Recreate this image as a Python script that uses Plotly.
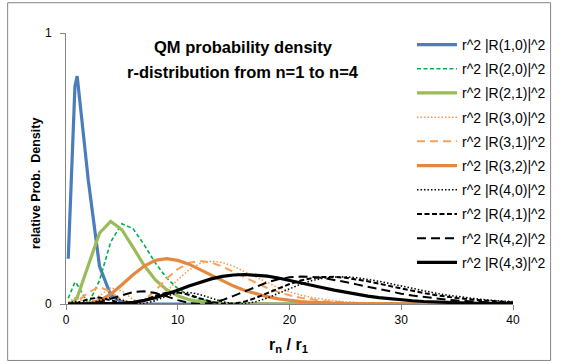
import plotly.graph_objects as go

# r / r1 sample positions
r_vals = [0.2, 0.8] + list(range(1, 41))

p10 = [0.167, 0.803, 0.841, 0.455, 0.139, 0.033, 0.007, 0.0014, 0.0003,
       0, 0, 0, 0, 0, 0, 0, 0, 0, 0, 0, 0, 0, 0, 0, 0, 0, 0, 0, 0, 0, 0, 0, 0,
       0, 0, 0, 0, 0, 0, 0, 0, 0]
p20 = [0.021, 0.081, 0.072, 0.0, 0.087, 0.229, 0.296, 0.278, 0.218, 0.151, 0.096,
       0.057, 0.032, 0.017, 0.009, 0.005, 0.002, 0.001, 0.0005, 0.0002,
       0, 0, 0, 0, 0, 0, 0, 0, 0, 0, 0, 0, 0, 0, 0, 0, 0, 0, 0, 0, 0, 0]
p21 = [0.0001, 0.012, 0.024, 0.141, 0.262, 0.305, 0.274, 0.209, 0.142, 0.089, 0.053,
       0.030, 0.016, 0.008, 0.004, 0.002, 0.001, 0.0005, 0.0002, 0.0001,
       0, 0, 0, 0, 0, 0, 0, 0, 0, 0, 0, 0, 0, 0, 0, 0, 0, 0, 0, 0, 0, 0]
p30 = [0.006, 0.023, 0.020, 0.0003, 0.031, 0.060, 0.048, 0.017, 0.0001, 0.012, 0.046,
       0.089, 0.126, 0.150, 0.158, 0.153, 0.139, 0.119, 0.098, 0.078, 0.060,
       0.045, 0.033, 0.024, 0.017, 0.012, 0.008, 0.005, 0.0035, 0.0023, 0.0015,
       0.001, 0.0006, 0.0004, 0.00025, 0.00016, 0.0001, 0, 0, 0, 0, 0]
p31 = [0.0, 0.004, 0.008, 0.043, 0.063, 0.045, 0.014, 0.0, 0.014, 0.050, 0.093,
       0.129, 0.152, 0.159, 0.153, 0.138, 0.118, 0.097, 0.077, 0.059, 0.044,
       0.032, 0.023, 0.016, 0.011, 0.008, 0.005, 0.0034, 0.0023, 0.0015, 0.0009,
       0.0006, 0.0004, 0.00025, 0.00015, 0.0001, 0, 0, 0, 0, 0, 0]
p32 = [0.0, 0.0, 0.0001, 0.002, 0.0125, 0.036, 0.071, 0.108, 0.140, 0.161, 0.167,
       0.161, 0.147, 0.127, 0.105, 0.084, 0.066, 0.050, 0.037, 0.027, 0.019,
       0.013, 0.009, 0.006, 0.004, 0.0027, 0.0018, 0.0012, 0.0007, 0.0005, 0.0003,
       0.0002, 0.0001, 0, 0, 0, 0, 0, 0, 0, 0, 0]
p40 = [0.0026, 0.0095, 0.0081, 0.0002, 0.0138, 0.0235, 0.0152, 0.0027, 0.0011, 0.0127,
       0.0293, 0.0412, 0.0429, 0.0348, 0.0215, 0.0087, 0.0011, 0.0009, 0.0084, 0.0220,
       0.0391, 0.0569, 0.0730, 0.0862, 0.0949, 0.0997, 0.1002, 0.0972, 0.0915, 0.0839,
       0.0752, 0.0661, 0.0570, 0.0484, 0.0406, 0.0335, 0.0273, 0.0220, 0.0176, 0.0139,
       0.0109, 0.0085]
p41 = [0.0, 0.0018, 0.0036, 0.0181, 0.0241, 0.0141, 0.0020, 0.0016, 0.0139, 0.0305,
       0.0418, 0.0428, 0.0343, 0.0209, 0.0082, 0.0009, 0.0011, 0.0089, 0.0227, 0.0398,
       0.0576, 0.0738, 0.0867, 0.0955, 0.0999, 0.1002, 0.0971, 0.0913, 0.0837, 0.0750,
       0.0658, 0.0568, 0.0482, 0.0403, 0.0333, 0.0271, 0.0219, 0.0175, 0.0138, 0.0108,
       0.0084, 0.0065]
p42 = [0.0, 0.0, 0.0, 0.0012, 0.0070, 0.0188, 0.0332, 0.0442, 0.0470, 0.0406,
       0.0281, 0.0143, 0.0038, 0.0, 0.0038, 0.0145, 0.0300, 0.0476, 0.0650, 0.0799,
       0.0913, 0.0984, 0.1012, 0.1002, 0.0960, 0.0894, 0.0813, 0.0724, 0.0632, 0.0543,
       0.0459, 0.0382, 0.0314, 0.0256, 0.0206, 0.0164, 0.0129, 0.0101, 0.0078, 0.0060,
       0.0046, 0.0035]
p43 = [0.0, 0.0, 0.0, 0.0, 0.0001, 0.0007, 0.0024, 0.0063, 0.0132, 0.0232,
       0.0361, 0.0509, 0.0662, 0.0805, 0.0926, 0.1017, 0.1071, 0.1089, 0.1073, 0.1028,
       0.0961, 0.0878, 0.0787, 0.0693, 0.0599, 0.0511, 0.0430, 0.0357, 0.0293, 0.0237,
       0.0191, 0.0152, 0.0120, 0.0093, 0.0073, 0.0056, 0.0043, 0.0032, 0.0025, 0.0018,
       0.0014, 0.0010]

series_names = ["r^2 |R(1,0)|^2", "r^2 |R(2,0)|^2", "r^2 |R(2,1)|^2",
                "r^2 |R(3,0)|^2", "r^2 |R(3,1)|^2", "r^2 |R(3,2)|^2",
                "r^2 |R(4,0)|^2", "r^2 |R(4,1)|^2", "r^2 |R(4,2)|^2",
                "r^2 |R(4,3)|^2"]
series_vals = [p10, p20, p21, p30, p31, p32, p40, p41, p42, p43]

styles = [
    dict(color="#4A7EBB", width=3.2, dash="solid"),
    dict(color="#00B050", width=1.6, dash="4px,2.5px"),
    dict(color="#9BBB59", width=3.2, dash="solid"),
    dict(color="#F79646", width=1.5, dash="1.5px,2px"),
    dict(color="#F9A15C", width=2, dash="8px,5px"),
    dict(color="#E5883F", width=3.2, dash="solid"),
    dict(color="#000000", width=1.5, dash="1.5px,2px"),
    dict(color="#000000", width=2, dash="5px,2.5px"),
    dict(color="#000000", width=2, dash="9px,5px"),
    dict(color="#000000", width=3.2, dash="solid"),
]

FONT = "Liberation Sans"

fig = go.Figure()
for i, (nm, vals, st) in enumerate(zip(series_names, series_vals, styles)):
    fig.add_trace(go.Scatter(x=r_vals, y=vals, mode="lines", name=nm,
                             line=st, legendgroup=f"g{i}"))

axis_col = "#868686"
fig.update_layout(
    width=563, height=364,
    margin=dict(l=66, r=45, t=33, b=60),
    paper_bgcolor="white", plot_bgcolor="white",
    font=dict(family=FONT, size=12, color="#000000"),
    showlegend=True,
    legend=dict(x=0.774, y=1.015, xanchor="left", yanchor="top",
                bgcolor="rgba(0,0,0,0)", font=dict(family=FONT, size=14),
                tracegroupgap=3, itemwidth=40, maxheight=400),
    xaxis=dict(range=[0, 40], dtick=10, tick0=0, showgrid=False, zeroline=False,
               showline=True, linecolor=axis_col, linewidth=1,
               ticks="outside", ticklen=5, tickcolor=axis_col,
               tickfont=dict(family=FONT, size=12)),
    yaxis=dict(range=[0, 1], dtick=1, tick0=0, showgrid=False, zeroline=False,
               showline=True, linecolor=axis_col, linewidth=1,
               ticks="outside", ticklen=5, tickcolor=axis_col,
               tickfont=dict(family=FONT, size=12), ticklabelstandoff=6),
    shapes=[dict(type="rect", xref="paper", yref="paper",
                 x0=(7 - 66) / 452, x1=(556 - 66) / 452,
                 y0=(304.5 - 361) / 271.2, y1=(304.5 - 3) / 271.2,
                 line=dict(color=axis_col, width=1), fillcolor="rgba(0,0,0,0)",
                 layer="below")],
    annotations=[
        dict(text="<b>QM probability density</b>", xref="paper", yref="paper",
             x=(245 - 66) / 452, y=(304.5 - 47) / 271.2, showarrow=False,
             font=dict(family=FONT, size=16.5), xanchor="center", yanchor="middle"),
        dict(text="<b>r-distribution from n=1 to n=4</b>", xref="paper", yref="paper",
             x=(245 - 66) / 452, y=(304.5 - 72) / 271.2, showarrow=False,
             font=dict(family=FONT, size=16.5), xanchor="center", yanchor="middle"),
        dict(text="<b>relative Prob.  Density</b>", xref="paper", yref="paper",
             x=(35 - 66) / 452, y=(304.5 - 184) / 271.2, showarrow=False, textangle=-90,
             font=dict(family=FONT, size=12.5), xanchor="center", yanchor="middle"),
        dict(text="<b>r<sub>n</sub> / r<sub>1</sub></b>", xref="paper", yref="paper",
             x=(291 - 66) / 452, y=(304.5 - 346) / 271.2, showarrow=False,
             font=dict(family=FONT, size=16), xanchor="center", yanchor="middle"),
    ],
)

fig.write_html("out.html", config={"displayModeBar": False},
               post_script="document.body.style.margin='0';document.body.style.overflow='hidden';")
